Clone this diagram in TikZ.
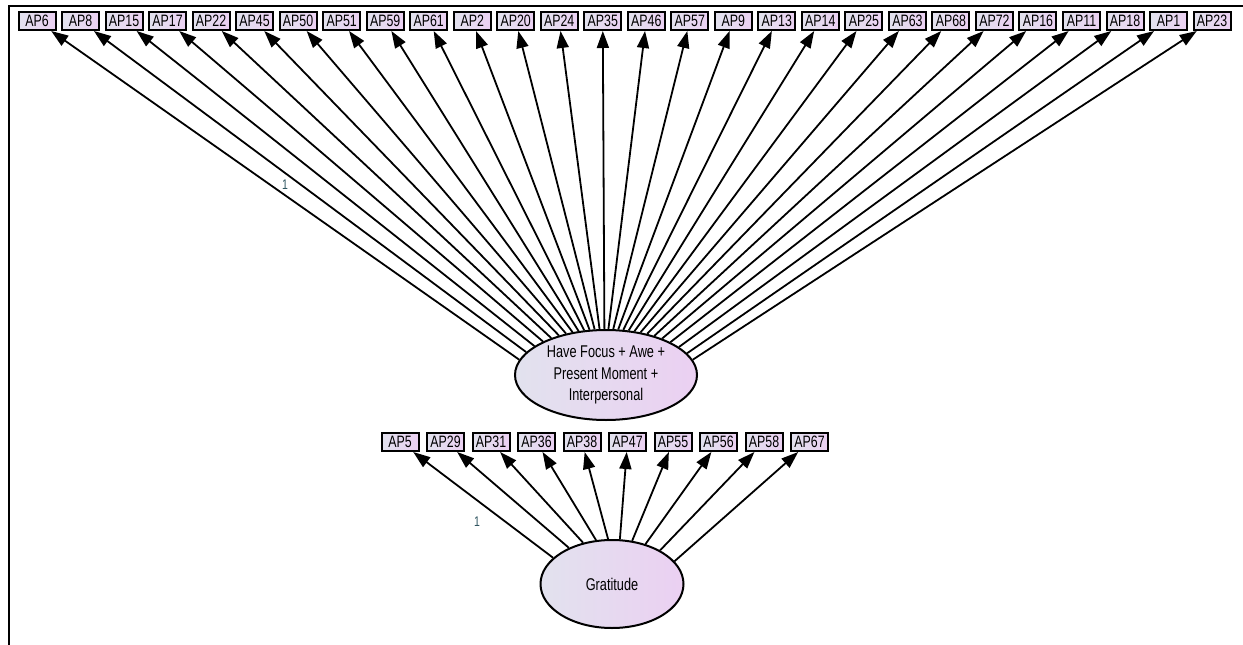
\documentclass[tikz,border=0pt]{standalone}
\usepackage{fontspec}
\setmainfont{Liberation Sans}[FakeStretch=0.75]
\usetikzlibrary{shapes.geometric}
\usetikzlibrary{arrows.meta,calc}
\usepackage[dvipsnames]{xcolor}
\definecolor{fillleft}{HTML}{E2E2EE}
\definecolor{fillright}{HTML}{EBD0F2}
\definecolor{onecolor}{HTML}{2F5560}

\begin{document}
\begin{tikzpicture}[x=1pt,y=-1pt,
		obs/.style = {draw=black, line width=2pt, left color=fillleft, right color=fillright,
			minimum width=37pt, minimum height=18pt, inner sep=1pt, font=\fontsize{16.5}{16.5}\selectfont},
		lat/.style = {ellipse, draw=black, line width=2pt, left color=fillleft, right color=fillright,
			inner sep=0pt, align=center, font=\fontsize{17}{21.5}\selectfont},
		path/.style = {line width=1.8pt, -{Triangle[length=17pt,width=12pt]}},
		fixed/.style = {text=onecolor, font=\fontsize{14}{14}\selectfont}
		]
		\useasboundingbox (0,0) rectangle (1243,645);
		% frame
		\draw[line width=2.5pt] (9,645) -- (9,6) -- (1243,6);
		% latent variables
		\node[lat, minimum width=182pt, minimum height=90pt] (focus) at (606,375)
			{Have Focus + Awe +\\Present Moment +\\Interpersonal};
		\node[lat, minimum width=143pt, minimum height=88pt] (grat) at (612,584) {Gratitude};
		% indicators of the first factor
		\foreach \name [count=\i from 0] in {6,8,15,17,22,45,50,51,59,61,2,20,24,35,46,57,9,13,14,25,63,68,72,16,11,18,1,23} {
			\node[obs] (ap\name) at (37+43.52*\i,21) {AP\name};
			\pgfmathtruncatemacro\ang{170-\i*160/27}
			\draw[path] (focus.\ang) -- (ap\name);
		}
		% indicators of gratitude
		\foreach \name [count=\i from 0] in {5,29,31,36,38,47,55,56,58,67} {
			\node[obs] (ap\name) at (400+45.5*\i,442) {AP\name};
			\pgfmathtruncatemacro\ang{156-\i*136/9}
			\draw[path] (grat.\ang) -- (ap\name);
		}
		\node[fixed] (fix1) at (285,185) {1};
		\node[fixed] (fix2) at (477,522) {1};
	\end{tikzpicture}
\end{document}
